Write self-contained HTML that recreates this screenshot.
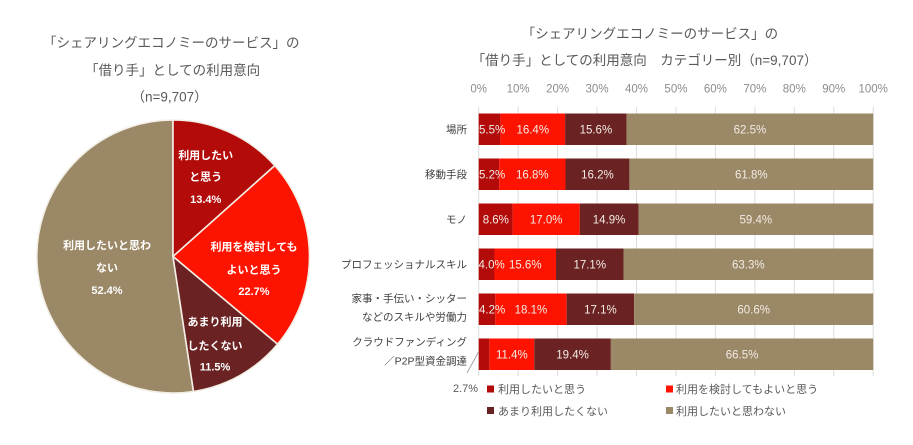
<!DOCTYPE html>
<html><head><meta charset="utf-8">
<style>
html,body{margin:0;padding:0;background:#fff;}
svg{display:block;}
.t{font-family:"Liberation Sans","Noto Sans CJK JP",sans-serif;}
</style></head>
<body>
<svg width="913" height="445" viewBox="0 0 913 445" xmlns="http://www.w3.org/2000/svg" class="t">
<rect width="913" height="445" fill="#fff"/>

<!-- Pie title -->
<g font-size="13.5" fill="#595959">
<text x="43" y="47.7">「シェアリングエコノミーのサービス」の</text>
<text x="85" y="75">「借り手」としての利用意向</text>
<text x="131.5" y="101.7">（n=9,707）</text>
</g>

<!-- Pie -->
<g stroke="#f3efe6" stroke-width="1.6" stroke-linejoin="round">
<path d="M173,256.5 L193.5,391.5 A136.5,136.5 0 1 1 173,120 Z" fill="#9b8866"/>
<path d="M173,256.5 L173,120 A136.5,136.5 0 0 1 274.8,165.6 Z" fill="#b30a0a"/>
<path d="M173,256.5 L274.8,165.6 A136.5,136.5 0 0 1 277.6,344.2 Z" fill="#fd1300"/>
<path d="M173,256.5 L277.6,344.2 A136.5,136.5 0 0 1 193.5,391.5 Z" fill="#6a2222"/>
</g>
<g font-size="11" font-weight="bold" fill="#fff" text-anchor="middle">
<text x="205.7" y="159">利用したい</text>
<text x="205.7" y="180.7">と思う</text>
<text x="205.7" y="203">13.4%</text>
<text x="254" y="250.7">利用を検討しても</text>
<text x="254" y="273.3">よいと思う</text>
<text x="254" y="295">22.7%</text>
<text x="215" y="325.7">あまり利用</text>
<text x="215" y="349.3">したくない</text>
<text x="215" y="370.7">11.5%</text>
<text x="107" y="249">利用したいと思わ</text>
<text x="107" y="271.7">ない</text>
<text x="107" y="294">52.4%</text>
</g>

<!-- Bar chart title -->
<g font-size="13.5" fill="#595959">
<text x="521.7" y="38.3">「シェアリングエコノミーのサービス」の</text>
<text x="471.7" y="65">「借り手」としての利用意向　カテゴリー別（n=9,707）</text>
</g>

<!-- Axis labels -->
<g font-size="11.5" fill="#8c8c8c" text-anchor="middle">
<text x="478.7" y="92.5">0%</text>
<text x="518.15" y="92.5">10%</text>
<text x="557.6" y="92.5">20%</text>
<text x="597.05" y="92.5">30%</text>
<text x="636.5" y="92.5">40%</text>
<text x="675.95" y="92.5">50%</text>
<text x="715.4" y="92.5">60%</text>
<text x="754.85" y="92.5">70%</text>
<text x="794.3" y="92.5">80%</text>
<text x="833.75" y="92.5">90%</text>
<text x="873.2" y="92.5">100%</text>
</g>

<!-- Gridlines -->
<g stroke="#dcdcdc" stroke-width="1">
<line x1="478.7" y1="107" x2="478.7" y2="376"/>
<line x1="518.15" y1="107" x2="518.15" y2="376"/>
<line x1="557.6" y1="107" x2="557.6" y2="376"/>
<line x1="597.05" y1="107" x2="597.05" y2="376"/>
<line x1="636.5" y1="107" x2="636.5" y2="376"/>
<line x1="675.95" y1="107" x2="675.95" y2="376"/>
<line x1="715.4" y1="107" x2="715.4" y2="376"/>
<line x1="754.85" y1="107" x2="754.85" y2="376"/>
<line x1="794.3" y1="107" x2="794.3" y2="376"/>
<line x1="833.75" y1="107" x2="833.75" y2="376"/>
<line x1="873.2" y1="107" x2="873.2" y2="376"/>
</g>

<!-- Bars -->
<g>
<!-- 1 -->
<rect x="478.7" y="113.5" width="21.7" height="31.5" fill="#b30a0a"/>
<rect x="500.4" y="113.5" width="64.7" height="31.5" fill="#fd1300"/>
<rect x="565.1" y="113.5" width="61.54" height="31.5" fill="#6a2222"/>
<rect x="626.64" y="113.5" width="246.56" height="31.5" fill="#9b8866"/>
<!-- 2 -->
<rect x="478.7" y="158.5" width="20.51" height="31.5" fill="#b30a0a"/>
<rect x="499.21" y="158.5" width="66.28" height="31.5" fill="#fd1300"/>
<rect x="565.49" y="158.5" width="63.91" height="31.5" fill="#6a2222"/>
<rect x="629.4" y="158.5" width="243.8" height="31.5" fill="#9b8866"/>
<!-- 3 -->
<rect x="478.7" y="203.5" width="33.93" height="31.5" fill="#b30a0a"/>
<rect x="512.63" y="203.5" width="67.07" height="31.5" fill="#fd1300"/>
<rect x="579.7" y="203.5" width="58.78" height="31.5" fill="#6a2222"/>
<rect x="638.48" y="203.5" width="234.72" height="31.5" fill="#9b8866"/>
<!-- 4 -->
<rect x="478.7" y="248.5" width="15.78" height="31.5" fill="#b30a0a"/>
<rect x="494.48" y="248.5" width="61.54" height="31.5" fill="#fd1300"/>
<rect x="556.02" y="248.5" width="67.46" height="31.5" fill="#6a2222"/>
<rect x="623.48" y="248.5" width="249.72" height="31.5" fill="#9b8866"/>
<!-- 5 -->
<rect x="478.7" y="293.5" width="16.57" height="31.5" fill="#b30a0a"/>
<rect x="495.27" y="293.5" width="71.4" height="31.5" fill="#fd1300"/>
<rect x="566.67" y="293.5" width="67.46" height="31.5" fill="#6a2222"/>
<rect x="634.13" y="293.5" width="239.07" height="31.5" fill="#9b8866"/>
<!-- 6 -->
<rect x="478.7" y="338.5" width="10.65" height="31.5" fill="#b30a0a"/>
<rect x="489.35" y="338.5" width="44.97" height="31.5" fill="#fd1300"/>
<rect x="534.32" y="338.5" width="76.53" height="31.5" fill="#6a2222"/>
<rect x="610.85" y="338.5" width="262.35" height="31.5" fill="#9b8866"/>
</g>

<!-- Bar data labels -->
<g font-size="11.5" fill="#f2ece6">
<text x="479" y="133.4">5.5%</text>
<text x="479" y="178.4">5.2%</text>
<text x="482.7" y="223.4">8.6%</text>
<text x="478.5" y="268.4">4.0%</text>
<text x="479" y="313.4">4.2%</text>
</g>
<g font-size="11.5" fill="#f2ece6" text-anchor="middle">
<text x="532.75" y="133.4">16.4%</text>
<text x="595.87" y="133.4">15.6%</text>
<text x="749.9" y="133.4">62.5%</text>
<text x="532.35" y="178.4">16.8%</text>
<text x="597.45" y="178.4">16.2%</text>
<text x="751.3" y="178.4">61.8%</text>
<text x="546.16" y="223.4">17.0%</text>
<text x="609.09" y="223.4">14.9%</text>
<text x="755.84" y="223.4">59.4%</text>
<text x="525.25" y="268.4">15.6%</text>
<text x="589.75" y="268.4">17.1%</text>
<text x="748.34" y="268.4">63.3%</text>
<text x="530.97" y="313.4">18.1%</text>
<text x="600.4" y="313.4">17.1%</text>
<text x="753.67" y="313.4">60.6%</text>
<text x="511.84" y="358.4">11.4%</text>
<text x="572.59" y="358.4">19.4%</text>
<text x="742.03" y="358.4">66.5%</text>
</g>

<!-- leader line for 2.7% -->
<line x1="478.5" y1="352" x2="467" y2="373" stroke="#a6a6a6" stroke-width="1"/>
<text x="465.5" y="392.2" font-size="11" fill="#595959" text-anchor="middle">2.7%</text>

<!-- Category labels -->
<g font-size="10.5" fill="#404040" text-anchor="end">
<text x="467" y="133.2">場所</text>
<text x="467" y="178.2">移動手段</text>
<text x="467" y="223.2">モノ</text>
<text x="467" y="268.2">プロフェッショナルスキル</text>
<text x="467" y="302">家事・手伝い・シッター</text>
<text x="467" y="320.7">などのスキルや労働力</text>
<text x="467" y="345.7">クラウドファンディング</text>
<text x="467" y="364.7">／P2P型資金調達</text>
</g>

<!-- Legend -->
<rect x="487" y="385.5" width="7" height="7" fill="#b30a0a"/>
<rect x="487" y="407" width="7" height="7" fill="#6a2222"/>
<rect x="666" y="385.5" width="7" height="7" fill="#fd1300"/>
<rect x="666" y="407" width="7" height="7" fill="#9b8866"/>
<g font-size="11" fill="#595959">
<text x="498" y="393.2">利用したいと思う</text>
<text x="498" y="414.9">あまり利用したくない</text>
<text x="676" y="393.2">利用を検討してもよいと思う</text>
<text x="676" y="414.9">利用したいと思わない</text>
</g>
</svg>
</body></html>
